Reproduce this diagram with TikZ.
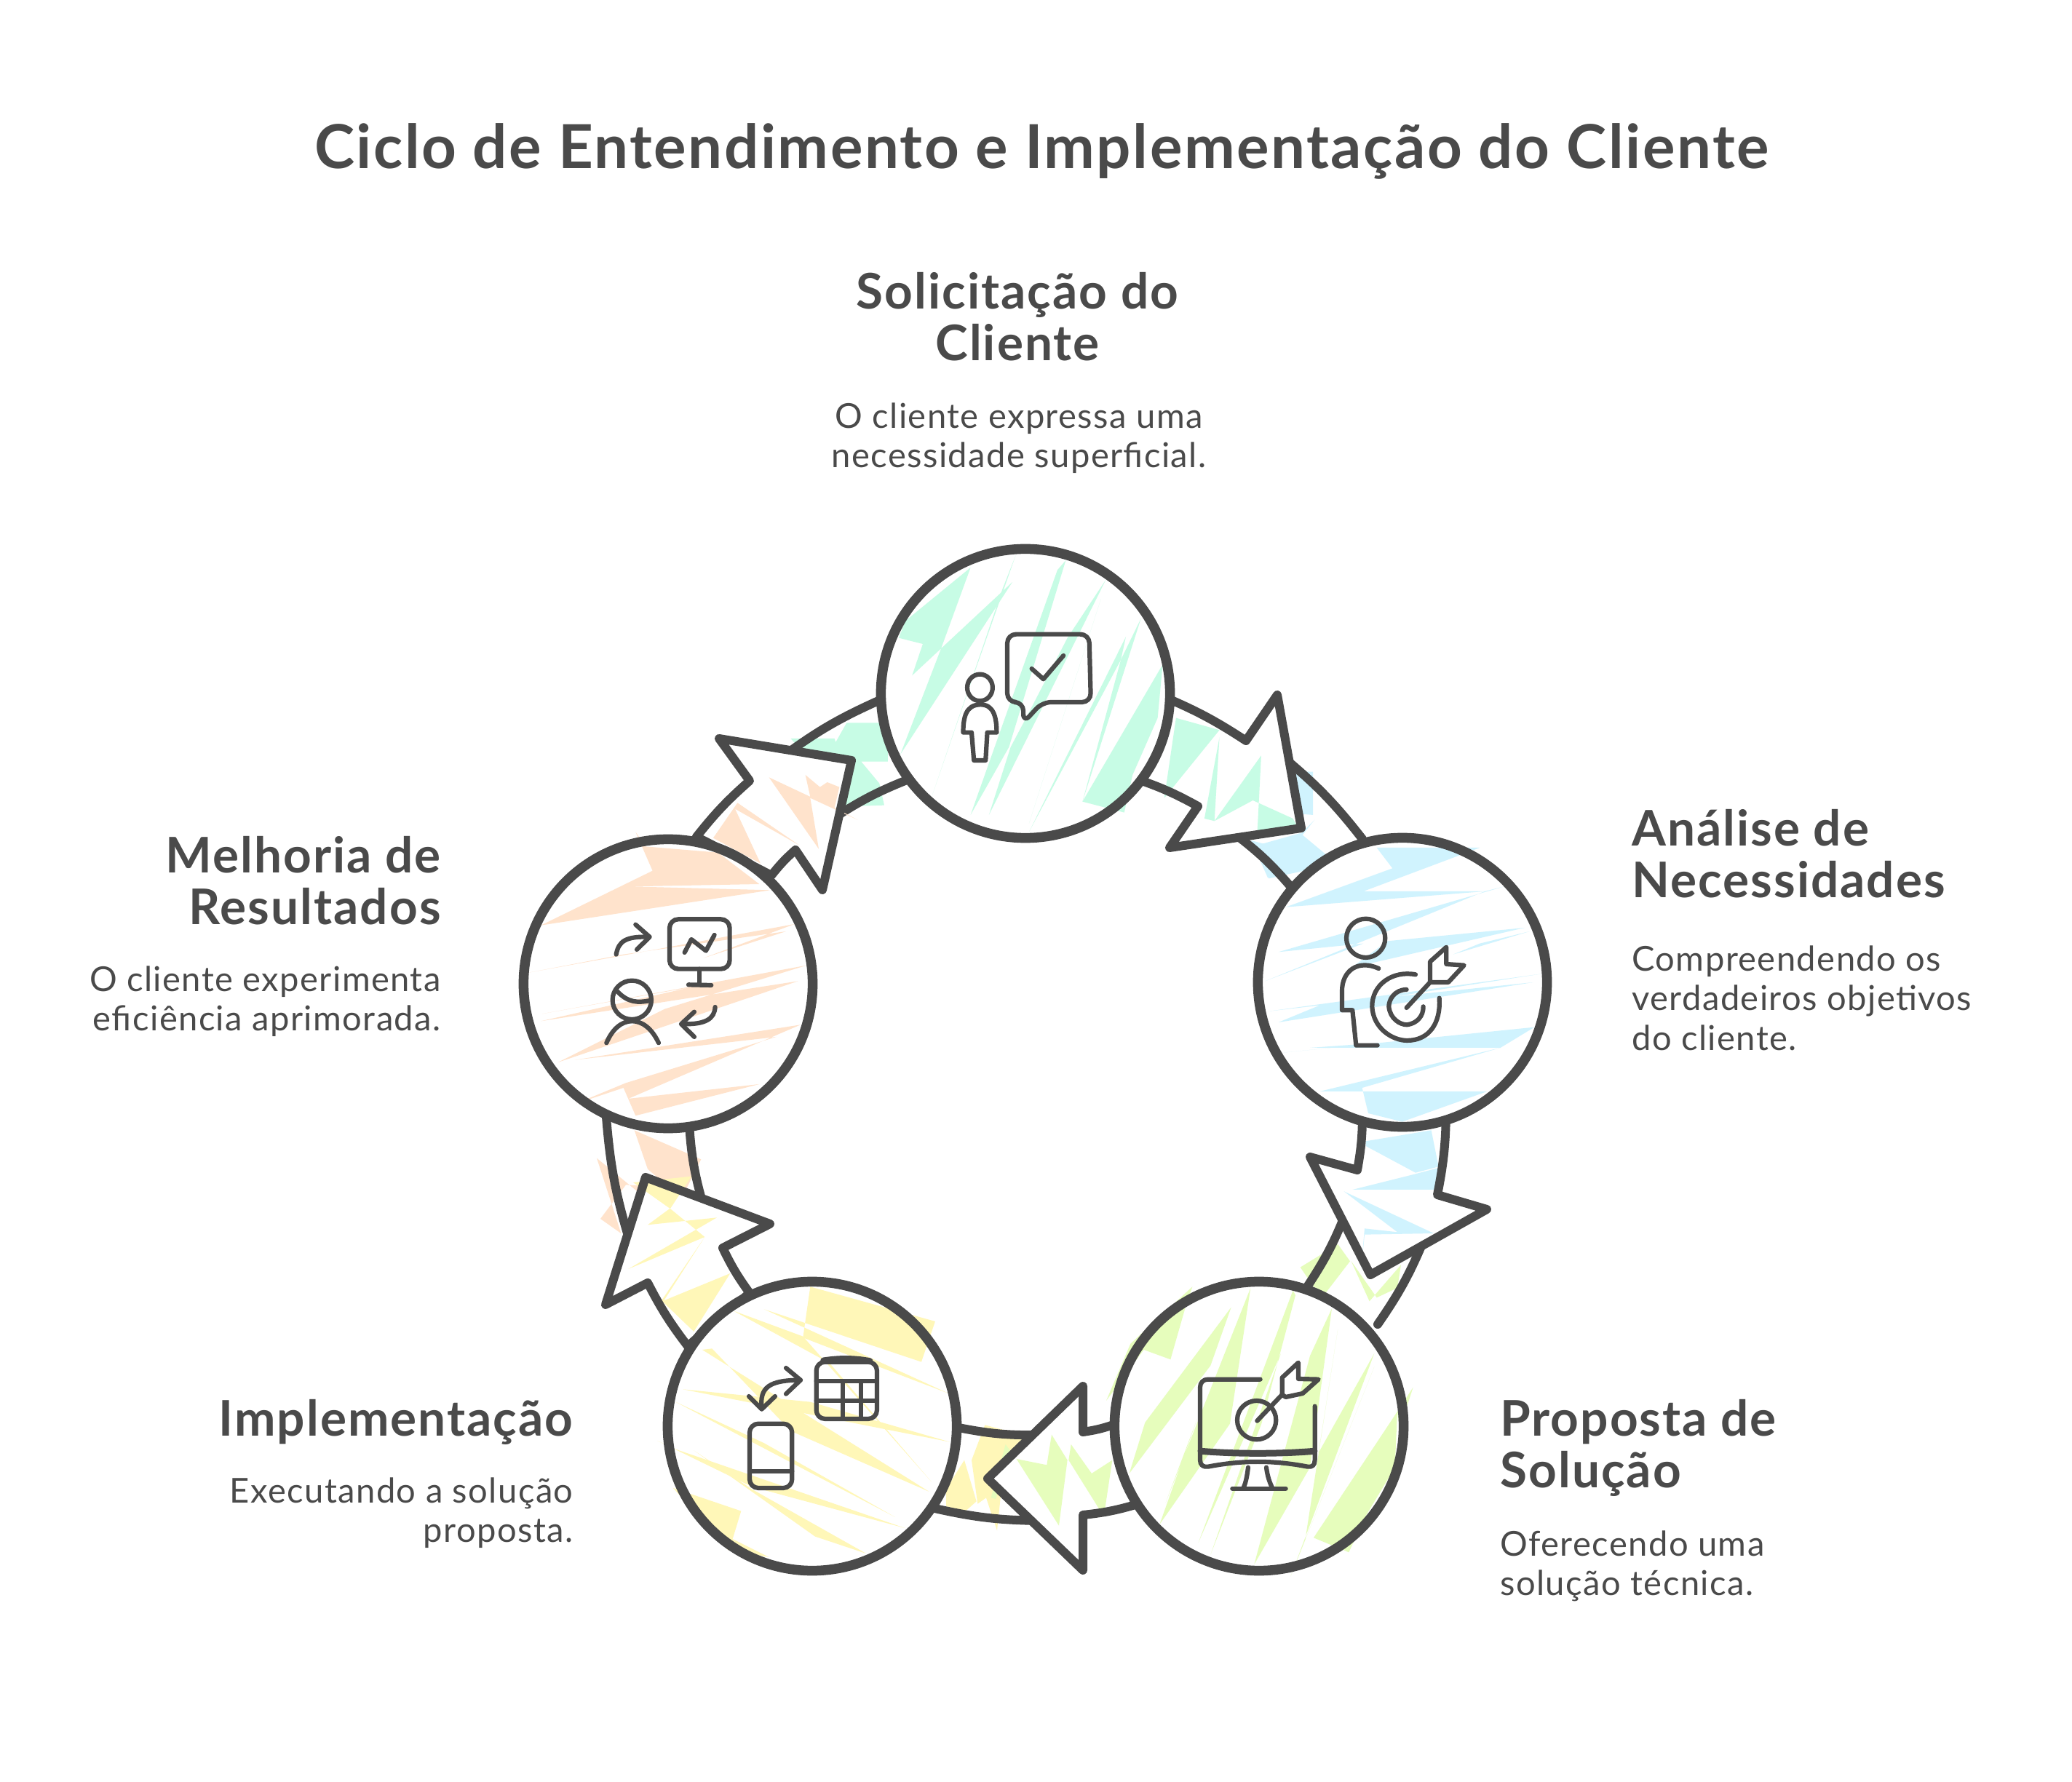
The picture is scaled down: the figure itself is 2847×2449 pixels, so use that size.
\documentclass[tikz,border=0pt]{standalone}
\usepackage{fontspec}
\setmainfont{Lato}
\newfontfamily\widefont[LetterSpace=3]{Lato}
\definecolor{ink}{HTML}{4A4A4A}
\definecolor{mint}{HTML}{C7FCE5}
\definecolor{skyb}{HTML}{D0F3FE}
\definecolor{lime}{HTML}{E6FDBC}
\definecolor{lemon}{HTML}{FFF7B8}
\definecolor{peach}{HTML}{FFE3CC}
\tikzset{
  bubble/.style={circle,draw=ink,line width=.135cm,minimum size=3.97cm,inner sep=0pt},
  ringline/.style={draw=ink,line width=.12cm,line join=round,line cap=round},
  pict/.style={draw=ink,line width=.062cm,line join=round,line cap=round},
  ttl/.style={text=ink,font=\widefont\fontsize{23.7}{28}\selectfont\bfseries},
  headc/.style={text=ink,font=\widefont\fontsize{19.2}{20.2}\selectfont\bfseries,align=center},
  headl/.style={text=ink,font=\widefont\fontsize{19.2}{20.2}\selectfont\bfseries,align=left},
  headr/.style={text=ink,font=\widefont\fontsize{19.2}{20.2}\selectfont\bfseries,align=right},
  bodyc/.style={text=ink,font=\widefont\fontsize{13.4}{15.5}\selectfont,align=center},
  bodyl/.style={text=ink,font=\widefont\fontsize{13.4}{15.5}\selectfont,align=left},
  bodyr/.style={text=ink,font=\widefont\fontsize{13.4}{15.5}\selectfont,align=right},
  zoneA/.style={shift={(1150,720)},xscale=.459,yscale=.3333},
  zoneB/.style={shift={(1700,1130)},scale=.3333},
  zoneC/.style={shift={(1500,1750)},scale=.3333},
  zoneD/.style={shift={(900,1750)},scale=.3333},
  zoneE/.style={shift={(700,1130)},scale=.3333},
  zoneF/.style={shift={(1760,1540)},scale=.3333},
  zoneG/.style={shift={(1300,1890)},scale=.3333},
  zoneH/.style={shift={(800,1540)},scale=.3333},
  zoneI/.style={shift={(920,960)},scale=.3333}
}
\newcommand{\arrowpath}[1]{(a#1a) to[bend left=5] (a#1b) -- (a#1c) -- (a#1d) -- (a#1e) -- (a#1f) to[bend right=5] (a#1g) -- cycle}
\begin{document}
\begin{tikzpicture}[x=.01cm,y=-.01cm]
\fill[white] (0,0) rectangle (2847,2449);
\useasboundingbox (0,0) rectangle (2847,2449);

\coordinate (a1a) at (1600,958); \coordinate (a1b) at (1712,1018); \coordinate (a1c) at (1755,955);
\coordinate (a1d) at (1788,1138); \coordinate (a1e) at (1607,1165); \coordinate (a1f) at (1646,1108);
\coordinate (a1g) at (1560,1070);
\coordinate (a2a) at (1987,1530); \coordinate (a2b) at (1975,1642); \coordinate (a2c) at (2043,1662);
\coordinate (a2d) at (1883,1752); \coordinate (a2e) at (1800,1590); \coordinate (a2f) at (1865,1608);
\coordinate (a2g) at (1872,1530);
\coordinate (a3a) at (1560,2068); \coordinate (a3b) at (1488,2082); \coordinate (a3c) at (1488,2158);
\coordinate (a3d) at (1357,2032); \coordinate (a3e) at (1488,1905); \coordinate (a3f) at (1488,1968);
\coordinate (a3g) at (1530,1958);
\coordinate (a4a) at (945,1850); \coordinate (a4b) at (890,1763); \coordinate (a4c) at (832,1793);
\coordinate (a4d) at (887,1618); \coordinate (a4e) at (1058,1682); \coordinate (a4f) at (993,1715);
\coordinate (a4g) at (1030,1777);
\coordinate (a5a) at (957,1150); \coordinate (a5b) at (1030,1073); \coordinate (a5c) at (988,1015);
\coordinate (a5d) at (1170,1045); \coordinate (a5e) at (1130,1223); \coordinate (a5f) at (1093,1168);
\coordinate (a5g) at (1060,1203);

\begin{scope}[zoneA]
\fill[skyb] plot coordinates {(1370,1020) (1425,1022) (1425,1200) (1380,1195)} -- cycle;
\fill[skyb] plot coordinates {(1240,1305) (1490,1400) (1380,1290) (1430,1220) (1290,1460)} -- cycle;
\end{scope}
\begin{scope}[zoneB]
\fill[skyb] plot coordinates {(100,90) (260,45) (410,170) (230,210) (130,232)} -- cycle;
\end{scope}
\begin{scope}[zoneF]
\fill[lime] plot coordinates {(80,605) (235,510) (285,580) (185,710) (135,685)} -- cycle;
\fill[lime] plot coordinates {(290,580) (365,745) (495,595) (480,690) (395,730)} -- cycle;
\end{scope}
\begin{scope}[zoneG]
\fill[lemon] plot coordinates {(160,205) (330,250) (250,420) (265,435) (230,450) (210,640) (165,505) (130,530) (105,350)} -- cycle;
\fill[lemon] plot coordinates {(75,350) (125,520) (80,560) (0,540) (0,470)} -- cycle;
\fill[lime] plot coordinates {(245,285) (290,345) (215,470) (205,510) (185,505)} -- cycle;
\end{scope}
\begin{scope}[zoneH]
\fill[peach] plot coordinates {(215,40) (490,160) (410,320) (270,200)} -- cycle;
\fill[peach] plot coordinates {(60,155) (310,360) (270,270) (180,265) (75,405) (160,465) (120,340)} -- cycle;
\end{scope}
\begin{scope}[zoneI]
\fill[mint] plot coordinates {(500,165) (680,165) (685,180) (730,100) (900,100) (900,260) (790,260) (865,350) (885,440) (725,445) (720,300) (570,250)} -- cycle;
\end{scope}

\coordinate (t1a) at (1765,1042); \coordinate (t1b) at (1872,1153);
\coordinate (t1c) at (1695,1145); \coordinate (t1d) at (1773,1218);
\coordinate (t2a) at (1957,1703); \coordinate (t2b) at (1893,1820);
\coordinate (t2c) at (1851,1662); \coordinate (t2d) at (1797,1767);
\coordinate (t3a) at (1430,2090); \coordinate (t3b) at (1280,2072);
\coordinate (t3c) at (1430,1972); \coordinate (t3d) at (1317,1962);
\coordinate (t4a) at (865,1705); \coordinate (t4b) at (833,1535);
\coordinate (t4c) at (966,1655); \coordinate (t4d) at (947,1545);
\coordinate (t5a) at (1075,1040); \coordinate (t5b) at (1207,963);
\coordinate (t5c) at (1140,1128); \coordinate (t5d) at (1251,1070);
\foreach \i in {1,...,5}{
  \draw[ringline] (t\i a) to[bend left=6] (t\i b);
  \draw[ringline] (t\i c) to[bend left=6] (t\i d);
}
\foreach \i in {1,...,5}{
  \fill[white] \arrowpath{\i};
}

\begin{scope}[zoneA]
\fill[mint] plot coordinates {(1015,800) (1145,850) (980,1130)} -- cycle;
\fill[mint] plot coordinates {(1145,880) (1100,1215) (1130,1225) (1270,955) (1258,1280) (1375,1240) (1365,1215) (1245,1140) (1130,1225)} -- cycle;
\end{scope}
\begin{scope}[zoneF]
\fill[skyb] plot coordinates {(350,85) (620,40) (650,190) (555,215) (350,105)} -- cycle;
\fill[skyb] plot coordinates {(555,220) (650,195) (635,285) (295,285)} -- cycle;
\fill[skyb] plot coordinates {(260,292) (630,465) (345,470) (330,620) (345,445) (480,460)} -- cycle;
\end{scope}
\begin{scope}[zoneG]
\fill[lime] plot coordinates {(290,345) (415,370) (435,245) (500,350) (465,620)} -- cycle;
\fill[lime] plot coordinates {(515,285) (600,405) (685,350) (655,550) (630,550) (505,350)} -- cycle;
\end{scope}
\begin{scope}[zoneH]
\fill[lemon] plot coordinates {(210,255) (450,230) (365,360) (270,430) (555,400) (190,612) (505,480) (365,365)} -- cycle;
\fill[lemon] plot coordinates {(610,630) (460,870) (330,745)} -- cycle;
\fill[lemon] plot coordinates {(505,480) (325,745) (335,745)} -- cycle;
\end{scope}
\begin{scope}[zoneI]
\fill[peach] plot coordinates {(410,325) (580,405) (560,315) (620,365) (650,345) (700,365) (680,450) (775,500) (580,410) (615,620)} -- cycle;
\fill[peach] plot coordinates {(280,430) (535,605) (270,455) (375,680) (180,575)} -- cycle;
\end{scope}

\foreach \i in {1,...,5}{
  \draw[ringline] \arrowpath{\i};
}

\foreach \cx/\cy in {1409/953,1927/1350,1730/1960,1116/1960,918/1352}{
  \fill[white] (\cx,\cy) circle (197);
}

\begin{scope}[zoneA]
\fill[mint] plot coordinates {(400,180) (205,400) (185,470) (257,495) (225,625) (525,240) (190,950) (310,520)} -- cycle;
\fill[mint] plot coordinates {(535,130) (405,640) (285,1120) (495,270)} -- cycle;
\fill[mint] plot coordinates {(660,190) (400,1200) (515,920) (685,150)} -- cycle;
\fill[mint] plot coordinates {(805,230) (455,1200) (520,920) (570,790) (690,470)} -- cycle;
\fill[mint] plot coordinates {(790,310) (575,1235) (690,740)} -- cycle;
\fill[mint] plot coordinates {(865,465) (575,1270) (850,560)} -- cycle;
\fill[mint] plot coordinates {(910,390) (735,1145) (850,560)} -- cycle;
\fill[mint] plot coordinates {(975,580) (735,1145) (860,1190) (885,1035) (960,800)} -- cycle;
\end{scope}
\begin{scope}[zoneB]
\fill[skyb] plot coordinates {(575,105) (1000,105) (520,285) (1020,285) (200,350) (640,190)} -- cycle;
\fill[skyb] plot coordinates {(1100,265) (170,535) (520,500) (115,655) (1020,285)} -- cycle;
\fill[skyb] plot coordinates {(1185,435) (470,600) (620,490)} -- cycle;
\fill[skyb] plot coordinates {(1205,450) (890,545) (1000,500)} -- cycle;
\fill[skyb] plot coordinates {(1255,625) (125,780) (340,755) (170,825) (1220,660) (640,720)} -- cycle;
\fill[skyb] plot coordinates {(1225,845) (190,950) (580,910) (300,930) (1085,930)} -- cycle;
\fill[skyb] plot coordinates {(1085,930) (340,1110) (1030,1110) (680,1235) (540,1200) (515,1095)} -- cycle;
\end{scope}
\begin{scope}[zoneC]
\fill[lime] plot coordinates {(415,55) (160,290) (60,525) (215,315) (325,355) (385,145)} -- cycle;
\fill[lime] plot coordinates {(575,140) (220,615) (155,825) (490,380)} -- cycle;
\fill[lime] plot coordinates {(655,60) (305,945) (435,600) (280,1035) (570,620)} -- cycle;
\fill[lime] plot coordinates {(830,70) (440,1110) (780,330) (490,1160) (700,620) (840,90)} -- cycle;
\fill[lime] plot coordinates {(990,145) (900,340) (670,1200) (900,800)} -- cycle;
\fill[lime] plot coordinates {(1015,230) (935,740) (1165,330) (820,1250) (1165,385) (880,1100)} -- cycle;
\fill[lime] plot coordinates {(1260,570) (915,1090) (1060,1150) (1130,1000) (1250,800)} -- cycle;
\fill[lime] plot coordinates {(1325,470) (1260,570) (1270,640)} -- cycle;
\end{scope}
\begin{scope}[zoneD]
\fill[lemon] plot coordinates {(640,55) (1155,198) (1098,365) (450,148) (1210,495) (610,265)} -- cycle;
\fill[lemon] plot coordinates {(325,155) (720,370) (1140,860) (610,260)} -- cycle;
\fill[lemon] plot coordinates {(195,315) (1130,900) (560,650) (235,310)} -- cycle;
\fill[lemon] plot coordinates {(115,478) (1215,695) (640,530)} -- cycle;
\fill[lemon] plot coordinates {(85,530) (990,1005) (450,700)} -- cycle;
\fill[lemon] plot coordinates {(85,725) (1030,1050) (400,880) (10,690)} -- cycle;
\fill[lemon] plot coordinates {(160,730) (660,1085) (870,1155) (400,890)} -- cycle;
\fill[lemon] plot coordinates {(75,885) (355,980) (320,1095) (470,1170) (300,1140)} -- cycle;
\end{scope}
\begin{scope}[zoneE]
\fill[peach] plot coordinates {(520,40) (590,200) (130,425) (1075,280) (500,265) (1030,255) (860,125) (560,100)} -- cycle;
\fill[peach] plot coordinates {(1175,420) (80,620) (470,545) (1140,450) (800,560)} -- cycle;
\fill[peach] plot coordinates {(1225,590) (135,790) (750,680) (130,820) (1190,655) (200,990) (640,770)} -- cycle;
\fill[peach] plot coordinates {(1200,835) (270,980) (1100,885) (480,1075) (275,1160) (470,1095) (520,1210) (1030,1080) (490,1140)} -- cycle;
\end{scope}

\node[bubble] (solicita) at (1409,953) {};
\node[bubble] (analise) at (1927,1350) {};
\node[bubble] (proposta) at (1730,1960) {};
\node[bubble] (implementa) at (1116,1960) {};
\node[bubble] (melhoria) at (918,1352) {};

\begin{scope}[zoneA]
\draw[pict] (428,675) ellipse (38 and 55);
\draw[pict] (430,745) .. controls (470,745) and (478,800) .. (478,860) -- (450,860) -- (445,975) -- (410,975) -- (403,860) -- (378,860) .. controls (378,800) and (385,745) .. (430,745);
\draw[pict,rounded corners=.12cm] (510,455) -- (755,455) -- (760,735) -- (615,735) -- (558,820) -- (558,735) -- (510,735) -- cycle;
\draw[pict] (583,597) -- (618,640) -- (678,543);
\end{scope}
\begin{scope}[zoneB]
\draw[pict] (530,478) circle (80);
\draw[pict] (583,603) .. controls (500,565) and (430,610) .. (432,700) -- (432,775) -- (475,775) -- (490,920) -- (578,920);
\draw[pict] (735,628) .. controls (640,610) and (555,670) .. (556,760) .. controls (560,850) and (640,900) .. (700,900) .. controls (790,900) and (840,830) .. (833,725);
\draw[pict] (698,690) .. controls (650,690) and (625,730) .. (625,760) .. controls (630,810) and (670,835) .. (700,835) .. controls (740,830) and (768,800) .. (767,760);
\draw[pict] (698,765) -- (795,660) -- (795,575) -- (862,515) -- (862,585) -- (935,590) -- (870,660) -- (795,660);
\end{scope}
\begin{scope}[zoneC]
\draw[pict] (695,437) -- (480,437) .. controls (460,437) and (447,450) .. (447,470) -- (447,770) .. controls (447,790) and (460,800) .. (480,797) .. controls (620,770) and (750,770) .. (890,797) .. controls (910,800) and (920,790) .. (920,770) -- (920,548);
\draw[pict,line width=.09cm] (450,733) .. controls (600,745) and (770,745) .. (918,733);
\draw[pict] (645,800) .. controls (640,840) and (635,865) .. (625,885);
\draw[pict] (720,800) .. controls (725,840) and (735,865) .. (745,885);
\draw[pict] (580,887) -- (800,887);
\draw[pict] (680,605) circle (80);
\draw[pict] (682,608) -- (785,500) -- (785,430) -- (852,368) -- (852,435) -- (935,437) -- (870,495) -- (800,510) -- (785,500);
\end{scope}
\begin{scope}[zoneD]
\draw[pict] (440,558) .. controls (430,470) and (470,440) .. (600,440);
\draw[pict] (540,390) -- (600,440) -- (540,497);
\draw[pict] (387,507) -- (440,560) -- (495,507);
\draw[pict,rounded corners=.12cm] (665,365) rectangle (915,600);
\draw[pict,line width=.09cm] (695,360) .. controls (760,350) and (820,350) .. (885,362);
\draw[pict] (665,445) -- (910,445);
\draw[pict] (665,525) -- (910,525);
\draw[pict] (775,450) -- (775,590);
\draw[pict] (850,450) -- (850,590);
\draw[pict,rounded corners=.12cm] (390,620) rectangle (565,885);
\draw[pict] (390,815) -- (565,815);
\end{scope}
\begin{scope}[zoneE]
\draw[pict] (440,545) .. controls (450,490) and (480,470) .. (575,473);
\draw[pict] (520,422) -- (578,473) -- (525,525);
\draw[pict,rounded corners=.12cm] (660,400) rectangle (908,605);
\draw[pict] (722,537) -- (750,483) -- (810,530) -- (845,465);
\draw[pict] (783,605) -- (783,670);
\draw[pict] (738,670) -- (832,672);
\draw[pict] (505,733) circle (80);
\draw[pict] (445,698) .. controls (490,745) and (530,745) .. (580,735);
\draw[pict] (400,910) .. controls (450,790) and (560,790) .. (615,910);
\draw[pict] (848,762) .. controls (845,810) and (810,835) .. (710,832);
\draw[pict] (762,782) -- (708,832) -- (762,885);
\end{scope}

\node[ttl,anchor=base] (titulo) at (1431,232) {Ciclo de Entendimento e Implementação do Cliente};
\node[headc,anchor=north] (tsol) at (1398,362) {Solicitação do\\Cliente};
\node[bodyc,anchor=north] (bsol) at (1400,541) {O cliente expressa uma\\necessidade superficial.};
\node[headl,anchor=north west] (tana) at (2230,1100) {Análise de\\Necessidades};
\node[bodyl,anchor=north west] (bana) at (2230,1287) {Compreendendo os\\verdadeiros objetivos\\do cliente.};
\node[headl,anchor=north west] (tpro) at (2049,1911) {Proposta de\\Solução};
\node[bodyl,anchor=north west] (bpro) at (2049,2091) {Oferecendo uma\\solução técnica.};
\node[headr,anchor=north east] (timp) at (800,1911) {Implementação};
\node[bodyr,anchor=north east] (bimp) at (800,2018) {Executando a solução\\proposta.};
\node[headr,anchor=north east] (tmel) at (618,1137) {Melhoria de\\Resultados};
\node[bodyr,anchor=north east] (bmel) at (618,1315) {O cliente experimenta\\eficiência aprimorada.};
\end{tikzpicture}
\end{document}
